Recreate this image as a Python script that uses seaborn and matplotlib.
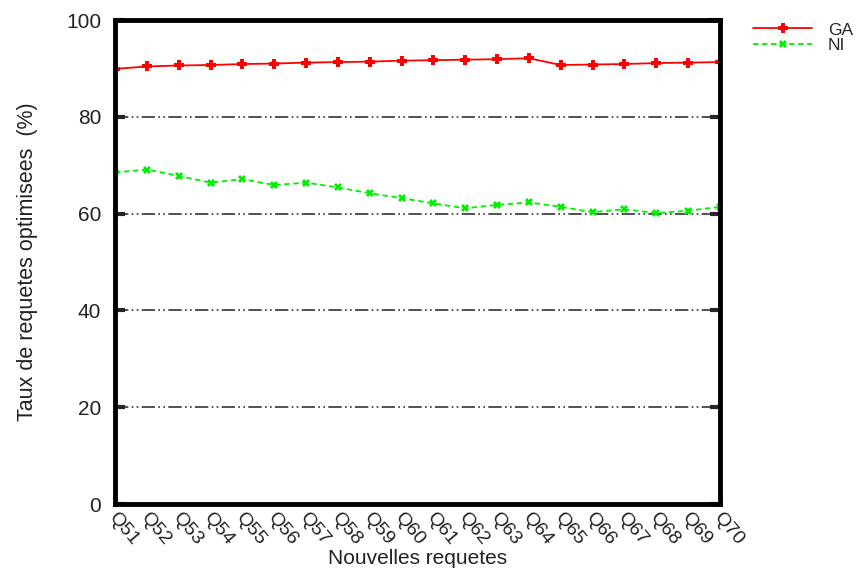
import numpy as np
import pandas as pd
import matplotlib
matplotlib.use("Agg")
import matplotlib.pyplot as plt
import matplotlib.transforms as mtrans
import seaborn as sns

queries = [f"Q{i}" for i in range(51, 71)]
ga = [89.9, 90.4, 90.6, 90.7, 90.9, 91.0, 91.2, 91.3, 91.4, 91.6,
      91.7, 91.8, 91.9, 92.1, 90.7, 90.8, 90.9, 91.1, 91.2, 91.3]
ni = [68.5, 69.1, 67.8, 66.4, 67.1, 65.9, 66.4, 65.4, 64.2, 63.2,
      62.1, 61.1, 61.8, 62.3, 61.4, 60.3, 60.9, 60.1, 60.6, 61.4]
y_ticks = [0, 20, 40, 60, 80, 100]

sns.set_style("white")
plt.rcParams["font.family"] = ["Liberation Sans", "DejaVu Sans"]

df = pd.DataFrame({
    "requete": queries * 2,
    "pos": list(range(len(queries))) * 2,
    "taux": ga + ni,
    "methode": ["GA"] * len(ga) + ["NI"] * len(ni),
})

fig = plt.figure(figsize=(8.58, 5.71), dpi=100)
ax = fig.add_axes([115 / 858, 1 - 504 / 571, 605 / 858, 484 / 571])

sns.lineplot(data=df[df.methode == "GA"], x="pos", y="taux", ax=ax,
             color="#ff0000", lw=1.3, marker="P", markersize=7,
             markeredgewidth=0, label="GA")
sns.lineplot(data=df[df.methode == "NI"], x="pos", y="taux", ax=ax,
             color="#00ee00", lw=1.3, linestyle=(0, (3, 2)), marker="X",
             markersize=6, markeredgewidth=0, label="NI")

for yv in y_ticks[1:-1]:
    ax.axhline(yv, color="#333333", lw=1.2, dashes=(8, 2, 1, 2, 1, 2), zorder=0)

ax.set_xlim(0, len(queries) - 1)
ax.set_ylim(0, 100)
ax.set_yticks(y_ticks)
ax.set_xticks(range(len(queries)))
ax.set_xticklabels(queries, rotation=-50, ha="left", va="top",
                   rotation_mode="anchor", fontsize=14, color="#222222")
ax.tick_params(axis="y", labelsize=15, labelcolor="#222222", direction="in",
               length=7, width=3, left=True, right=True, pad=10)
ax.tick_params(axis="x", length=0, pad=4)
for s in ax.spines.values():
    s.set_linewidth(3.5)
    s.set_color("black")

shift = mtrans.ScaledTranslation(3 / 100, 0, fig.dpi_scale_trans)
for lbl in ax.get_xticklabels():
    lbl.set_transform(lbl.get_transform() + shift)

ax.set_xlabel("Nouvelles requetes", fontsize=15, color="#222222")
ax.xaxis.set_label_coords(0.5, (504 - 549) / 484)
ax.set_ylabel("Taux de requetes optimisees  (%)", fontsize=15.5,
              color="#222222", labelpad=20)

ax.legend(loc="upper left", bbox_to_anchor=((753 - 115) / 605, 0.995),
          frameon=False, fontsize=12.5, handlelength=3.4, labelspacing=0.0,
          borderaxespad=0, borderpad=0, handletextpad=0.9, markerfirst=True)

fig.savefig("out.png", dpi=100)
